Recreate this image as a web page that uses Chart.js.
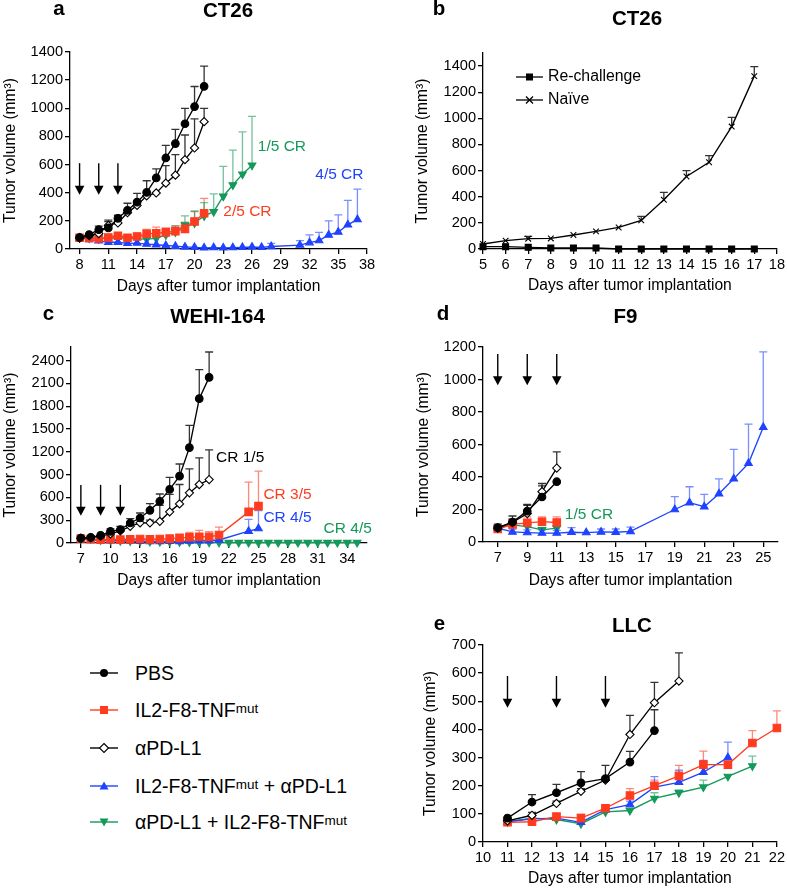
<!DOCTYPE html>
<html>
<head>
<meta charset="utf-8">
<script src="https://cdn.jsdelivr.net/npm/chart.js@4/dist/chart.umd.min.js"></script>
<style>
  body { margin: 0; background: #fff; width: 787px; height: 889px; position: relative; overflow: hidden;
         font-family: "Liberation Sans", Arial, Helvetica, sans-serif; }
  canvas { position: absolute; }
  .row { position: absolute; left: 90px; height: 26px; display: flex; align-items: center;
         white-space: nowrap; font-size: 19.5px; color: #000; }
  .row svg { margin-right: 17px; }
  .row sup { font-size: 13.5px; position: relative; top: -2px; }
</style>
</head>
<body>
<canvas id="panelA"></canvas>
<canvas id="panelB"></canvas>
<canvas id="panelC"></canvas>
<canvas id="panelD"></canvas>
<canvas id="panelE"></canvas>

<div class="row" style="top:660px"><svg width="28" height="14"><line x1="0" y1="7" x2="28" y2="7" stroke="#000" stroke-width="1.4"/><circle cx="14" cy="7" r="4" fill="#000"/></svg>PBS</div>
<div class="row" style="top:697px"><svg width="28" height="14"><line x1="0" y1="7" x2="28" y2="7" stroke="#ff3b1f" stroke-width="1.4"/><rect x="10" y="3" width="8" height="8" fill="#ff3b1f"/></svg>IL2-F8-TNF<sup>mut</sup></div>
<div class="row" style="top:735px"><svg width="28" height="14"><line x1="0" y1="7" x2="28" y2="7" stroke="#000" stroke-width="1.4"/><polygon points="14,2.5 18.5,7 14,11.5 9.5,7" fill="#fff" stroke="#000" stroke-width="1.1"/></svg>αPD-L1</div>
<div class="row" style="top:773px"><svg width="28" height="14"><line x1="0" y1="7" x2="28" y2="7" stroke="#1f43ff" stroke-width="1.4"/><polygon points="14,2.5 18.5,10.5 9.5,10.5" fill="#1f43ff"/></svg>IL2-F8-TNF<sup>mut</sup>&nbsp;+ αPD-L1</div>
<div class="row" style="top:809px"><svg width="28" height="14"><line x1="0" y1="7" x2="28" y2="7" stroke="#14995a" stroke-width="1.4"/><polygon points="9.5,3.5 18.5,3.5 14,11.5" fill="#14995a"/></svg>αPD-L1 + IL2-F8-TNF<sup>mut</sup></div>

<script>
Chart.defaults.font.family = '"Liberation Sans", Arial, Helvetica, sans-serif';
Chart.defaults.color = '#000';

// ---- panel a: CT26 ----
const aDays = [8, 9, 10, 11, 12, 13, 14, 15, 16, 17, 18, 19, 20, 21];
const aPBS = [82, 102, 137, 150, 218, 275, 333, 402, 505, 647, 749, 890, 1012, 1156];
const aPBSErr = [90, 108, 162, 205, 240, 325, 395, 485, 570, 737, 850, 1000, 1155, 1300];
const aPDL1 = [78, 95, 110, 168, 185, 258, 310, 378, 398, 468, 525, 635, 718, 905];
const aPDL1Err = [85, 100, 120, 195, 205, 275, 320, 390, 410, 592, 670, 810, 925, 1000];
const aIL2 = [80, 78, 75, 82, 94, 80, 89, 108, 112, 118, 127, 143, 195, 254];
const aIL2Err = [88, 85, 82, 92, 110, 92, 110, 140, 155, 150, 165, 190, 266, 360];
const aComboDays = [8, 9, 10, 11, 12, 13, 14, 15, 16, 17, 18, 19, 20, 21, 22, 23, 24, 25, 26, 27, 28, 31, 32, 33, 34, 35, 36, 37];
const aCombo = [78, 68, 58, 48, 48, 40, 42, 35, 30, 25, 20, 15, 12, 8, 10, 8, 10, 12, 14, 12, 18, 28, 45, 60, 100, 120, 172, 210];
const aComboErr = [85, 75, 68, 55, 55, 48, 50, 42, 38, 30, 25, 20, 18, 14, 15, 13, 15, 18, 20, 18, 40, 60, 100, 118, 200, 242, 345, 425];
const aCombo2Days = [8, 9, 10, 11, 12, 13, 14, 15, 16, 17, 18, 19, 20, 21, 22, 23, 24, 25, 26];
const aCombo2 = [80, 78, 72, 75, 80, 75, 72, 70, 75, 100, 120, 170, 185, 235, 265, 375, 455, 532, 595];
const aCombo2Err = [88, 85, 80, 85, 90, 85, 80, 80, 85, 130, 165, 235, 270, 330, 392, 587, 702, 832, 942];
const aXTicks = [8, 11, 14, 17, 20, 23, 26, 29, 32, 35, 38];
const aYTicks = [0, 200, 400, 600, 800, 1000, 1200, 1400];
const aArrowDays = [8, 10, 12];

// ---- panel b: CT26 re-challenge ----
const bDays = [5, 6, 7, 8, 9, 10, 11, 12, 13, 14, 15, 16, 17];
const bRechallenge = [18, 18, 13, 8, 8, 8, 0, 0, 0, 0, 0, 0, 0];
const bNaive = [38, 64, 79, 81, 107, 135, 165, 219, 377, 555, 664, 937, 1323];
const bNaiveErr = [45, 70, 97, 88, 112, 142, 172, 250, 433, 600, 715, 1008, 1395];
const bXTicks = [5, 6, 7, 8, 9, 10, 11, 12, 13, 14, 15, 16, 17, 18];
const bYTicks = [0, 200, 400, 600, 800, 1000, 1200, 1400];

// ---- panel c: WEHI-164 ----
const cDays = [7, 8, 9, 10, 11, 12, 13, 14, 15, 16, 17, 18, 19, 20];
const cPBS = [65, 75, 100, 152, 175, 263, 329, 430, 548, 705, 880, 1255, 1900, 2180];
const cPBSErr = [80, 90, 120, 185, 220, 320, 395, 517, 645, 864, 1040, 1549, 2281, 2514];
const cPDL1 = [60, 70, 90, 120, 160, 220, 265, 265, 285, 410, 515, 660, 770, 835];
const cPDL1Err = [70, 80, 100, 135, 180, 245, 290, 300, 495, 640, 770, 975, 1120, 1225];
const cTreatDays = [7, 8, 9, 10, 11, 12, 13, 14, 15, 16, 17, 18, 19, 20, 21, 24, 25];
const cIL2 = [60, 50, 45, 50, 45, 48, 52, 48, 52, 58, 68, 75, 82, 80, 105, 410, 485];
const cIL2Err = [70, 60, 55, 60, 55, 60, 65, 60, 65, 75, 100, 140, 165, 150, 210, 800, 945];
const cCombo = [55, 40, 35, 30, 28, 25, 22, 20, 20, 22, 20, 25, 30, 30, 40, 155, 190];
const cComboErr = [62, 48, 42, 38, 35, 32, 30, 28, 28, 30, 28, 35, 40, 42, 55, 310, 425];
const cCombo2Days = [7, 8, 9, 10, 11, 12, 13, 14, 15, 16, 17, 18, 19, 20, 21, 22, 23, 24, 25, 26, 27, 28, 29, 30, 31, 32, 33, 34, 35];
const cCombo2 = [60, 55, 40, 35, 30, 25, 22, 20, 18, 15, 14, 12, 10, 10, 8, 6, 6, 6, 6, 6, 6, 6, 6, 6, 6, 6, 6, 6, 6];
const cXTicks = [7, 10, 13, 16, 19, 22, 25, 28, 31, 34];
const cYTicks = [0, 300, 600, 900, 1200, 1500, 1800, 2100, 2400];
const cArrowDays = [7, 9, 11];

// ---- panel d: F9 ----
const dDays = [7, 8, 9, 10, 11];
const dPBS = [88, 123, 190, 277, 371];
const dPBSErr = [110, 160, 232, 345, 375];
const dPDL1 = [85, 120, 175, 310, 455];
const dPDL1Err = [100, 140, 225, 360, 555];
const dIL2 = [80, 108, 118, 125, 120];
const dIL2Err = [95, 140, 155, 155, 155];
const dCombo2 = [85, 105, 95, 75, 85];
const dCombo2Err = [95, 115, 105, 90, 100];
const dComboDays = [7, 8, 9, 10, 11, 12, 13, 14, 15, 16, 19, 20, 21, 22, 23, 24, 25];
const dCombo = [85, 62, 58, 55, 55, 60, 58, 62, 60, 65, 200, 242, 217, 297, 389, 484, 706];
const dComboErr = [95, 80, 75, 75, 72, 88, 70, 80, 80, 92, 279, 340, 293, 389, 570, 725, 1170];
const dXTicks = [7, 9, 11, 13, 15, 17, 19, 21, 23, 25];
const dYTicks = [0, 200, 400, 600, 800, 1000, 1200];
const dArrowDays = [7, 9, 11];

// ---- panel e: LLC ----
const ePBSDays = [11, 12, 13, 14, 15, 16, 17];
const ePBS = [85, 142, 175, 210, 225, 284, 396];
const ePBSErr = [92, 168, 205, 250, 272, 322, 470];
const ePDL1Days = [11, 12, 13, 14, 15, 16, 17, 18];
const ePDL1 = [75, 95, 137, 180, 220, 382, 495, 572];
const ePDL1Err = [80, 105, 145, 190, 230, 450, 567, 672];
const eIL2Days = [11, 12, 13, 14, 15, 16, 17, 18, 19, 20, 21, 22];
const eIL2 = [70, 72, 90, 85, 120, 165, 200, 235, 275, 275, 352, 405];
const eIL2Err = [75, 80, 100, 98, 132, 190, 220, 272, 323, 285, 396, 466];
const eComboDays = [11, 12, 13, 14, 15, 16, 17, 18, 19, 20];
const eCombo = [72, 82, 85, 70, 115, 133, 195, 212, 248, 300];
const eComboErr = [78, 88, 100, 78, 125, 145, 232, 255, 290, 355];
const eCombo2Days = [11, 12, 13, 14, 15, 16, 17, 18, 19, 20, 21];
const eCombo2 = [72, 85, 80, 65, 107, 112, 155, 175, 195, 233, 270];
const eCombo2Err = [76, 90, 85, 72, 112, 120, 175, 185, 220, 240, 305];
const eXTicks = [10, 11, 12, 13, 14, 15, 16, 17, 18, 19, 20, 21, 22];
const eYTicks = [0, 100, 200, 300, 400, 500, 600, 700];
const eArrowDays = [11, 13, 15];

const RED = '#ff3b1f', BLUE = '#1f43ff', GREEN = '#14995a';
const TITLE_SIZE = 15.6;
const HALF_TITLE = TITLE_SIZE * 1.2 / 2;

const groups = {
  pbs:   { color: '#000', err: 'rgba(0,0,0,0.8)', point: 'circle', r: 3.8, fill: '#000', rot: 0 },
  il2:   { color: RED, err: 'rgba(255,59,31,0.6)', point: 'rect', r: 5.3, fill: RED, rot: 0 },
  pdl1:  { color: '#000', err: 'rgba(0,0,0,0.8)', point: 'rectRot', r: 4.1, fill: '#fff', rot: 0 },
  combo: { color: BLUE, err: 'rgba(31,67,255,0.6)', point: 'triangle', r: 4.4, fill: BLUE, rot: 0 },
  combo2:{ color: GREEN, err: 'rgba(20,153,90,0.6)', point: 'triangle', r: 4.4, fill: GREEN, rot: 180 },
  re:    { color: '#000', err: 'rgba(0,0,0,0.8)', point: 'rect', r: 4.2, fill: '#000', rot: 0 },
  naive: { color: '#000', err: 'rgba(0,0,0,0.8)', point: 'crossRot', r: 4, fill: '#000', rot: 0 }
};

function series(g, days, vals, errs) {
  const s = groups[g];
  return {
    data: days.map((d, i) => ({ x: d, y: vals[i] })),
    errTop: errs || null,
    errColor: s.err,
    borderColor: s.color,
    backgroundColor: s.fill,
    borderWidth: 1.35,
    pointStyle: s.point,
    pointRadius: s.r,
    pointRotation: s.rot,
    pointBackgroundColor: s.fill,
    pointBorderColor: s.color,
    pointBorderWidth: 1.1,
    tension: 0,
    fill: false,
    clip: false
  };
}

// error bars, arrows, text notes, headings, inset legend
const decor = {
  id: 'decor',
  beforeDatasetsDraw(chart) {
    const ctx = chart.ctx, ys = chart.scales.y;
    chart.data.datasets.forEach((ds, i) => {
      if (!ds.errTop) return;
      const meta = chart.getDatasetMeta(i);
      ctx.save();
      ctx.strokeStyle = ds.errColor;
      ctx.lineWidth = 1.3;
      meta.data.forEach((p, j) => {
        const v = ds.errTop[j];
        if (v == null) return;
        const top = ys.getPixelForValue(v);
        if (!(top < p.y - 2)) return;
        ctx.beginPath();
        ctx.moveTo(p.x, p.y);
        ctx.lineTo(p.x, top);
        ctx.moveTo(p.x - 4, top);
        ctx.lineTo(p.x + 4, top);
        ctx.stroke();
      });
      ctx.restore();
    });
  },
  afterDatasetsDraw(chart, args, o) {
    const ctx = chart.ctx, xs = chart.scales.x, ys = chart.scales.y;
    const fam = '"Liberation Sans", Arial, Helvetica, sans-serif';
    ctx.save();
    if (o.arrows) {
      const y1 = ys.getPixelForValue(o.arrows.from), y2 = ys.getPixelForValue(o.arrows.to);
      o.arrows.days.forEach(d => {
        const x = xs.getPixelForValue(d);
        ctx.strokeStyle = '#000';
        ctx.lineWidth = 1.4;
        ctx.beginPath();
        ctx.moveTo(x, y1);
        ctx.lineTo(x, y2 - 7);
        ctx.stroke();
        ctx.fillStyle = '#000';
        ctx.beginPath();
        ctx.moveTo(x - 4.8, y2 - 9);
        ctx.lineTo(x + 4.8, y2 - 9);
        ctx.lineTo(x, y2);
        ctx.closePath();
        ctx.fill();
      });
    }
    ctx.font = '15.5px ' + fam;
    ctx.textBaseline = 'middle';
    ctx.textAlign = 'left';
    (o.notes || []).forEach(n => {
      ctx.fillStyle = n.color;
      ctx.fillText(n.text, xs.getPixelForValue(n.x), ys.getPixelForValue(n.y));
    });
    if (o.inset) {
      ctx.font = '15.8px ' + fam;
      o.inset.forEach(it => {
        const y = it.y - o.oy, x0 = it.x - o.ox;
        ctx.strokeStyle = '#000';
        ctx.lineWidth = 1.3;
        ctx.beginPath();
        ctx.moveTo(x0, y);
        ctx.lineTo(x0 + 27, y);
        ctx.stroke();
        const mx = x0 + 13.5;
        if (it.mark === 'square') {
          ctx.fillStyle = '#000';
          ctx.fillRect(mx - 3.5, y - 3.5, 7, 7);
        } else {
          ctx.beginPath();
          ctx.moveTo(mx - 3.5, y - 3.5); ctx.lineTo(mx + 3.5, y + 3.5);
          ctx.moveTo(mx + 3.5, y - 3.5); ctx.lineTo(mx - 3.5, y + 3.5);
          ctx.stroke();
        }
        ctx.fillStyle = '#000';
        ctx.fillText(it.text, x0 + 32, y);
      });
    }
    ctx.font = 'bold 20.5px ' + fam;
    ctx.textBaseline = 'alphabetic';
    ctx.textAlign = 'center';
    ctx.fillStyle = '#000';
    if (o.letter) ctx.fillText(o.letter.text, o.letter.x - o.ox, o.letter.y - o.oy);
    if (o.title) ctx.fillText(o.title.text, o.title.x - o.ox, o.title.y - o.oy);
    ctx.restore();
  }
};
Chart.register(decor);

function axis(min, max, ticks, text, fit) {
  return {
    type: 'linear',
    min: min,
    max: max,
    afterBuildTicks: ax => { ax.ticks = ticks.map(v => ({ value: v })); },
    afterFit: fit,
    grid: { drawOnChartArea: false, drawTicks: true, tickLength: 5, color: '#000', lineWidth: 1.3 },
    border: { display: true, color: '#000', width: 1.3 },
    ticks: { autoSkip: false, maxRotation: 0, padding: 2, color: '#000', font: { size: 14.6 }, callback: v => String(v) },
    title: { display: true, text: text, color: '#000', font: { size: TITLE_SIZE }, padding: 0 }
  };
}

function panel(id, spec, datasets, deco) {
  const L = Math.round(spec.yTitleX - HALF_TITLE), T = spec.top;
  const W = spec.right - L, H = spec.bottom - T;
  const cv = document.getElementById(id);
  cv.width = W; cv.height = H;
  cv.style.left = L + 'px'; cv.style.top = T + 'px';
  const [al, at, ar, ab] = spec.area;
  const xBoxBottom = Math.min(spec.xTitleY + HALF_TITLE, T + H);
  const yW = al - L, xH = xBoxBottom - ab;
  deco.ox = L; deco.oy = T;
  new Chart(cv, {
    type: 'line',
    data: { datasets: datasets },
    options: {
      responsive: false,
      animation: false,
      events: [],
      layout: { padding: { left: 0, top: at - T, right: L + W - ar, bottom: T + H - xBoxBottom } },
      scales: {
        x: axis(spec.xMin, spec.xMax, spec.xTicks, 'Days after tumor implantation', ax => { ax.height = xH; }),
        y: axis(0, spec.yMax, spec.yTicks, 'Tumor volume (mm³)', ax => { ax.width = yW; })
      },
      plugins: { legend: { display: false }, tooltip: { enabled: false }, decor: deco }
    }
  });
}

panel('panelA',
  { yTitleX: 10, top: 0, right: 392, bottom: 300, area: [70, 52, 367, 249], xTitleY: 287,
    xMin: 7, xMax: 38, xTicks: aXTicks, yMax: 1400, yTicks: aYTicks },
  [series('pbs', aDays, aPBS, aPBSErr), series('pdl1', aDays, aPDL1, aPDL1Err),
   series('il2', aDays, aIL2, aIL2Err), series('combo', aComboDays, aCombo, aComboErr),
   series('combo2', aCombo2Days, aCombo2, aCombo2Err)],
  { arrows: { days: aArrowDays, from: 610, to: 385 },
    notes: [{ text: '1/5 CR', x: 26.6, y: 727, color: GREEN },
            { text: '4/5 CR', x: 32.6, y: 531, color: BLUE },
            { text: '2/5 CR', x: 23.0, y: 265, color: RED }],
    letter: { text: 'a', x: 59, y: 15 }, title: { text: 'CT26', x: 228, y: 17 } });

panel('panelB',
  { yTitleX: 422, top: 0, right: 787, bottom: 300, area: [483, 53, 778, 249], xTitleY: 286,
    xMin: 5, xMax: 18, xTicks: bXTicks, yMax: 1500, yTicks: bYTicks },
  [series('re', bDays, bRechallenge, null), series('naive', bDays, bNaive, bNaiveErr)],
  { inset: [{ text: 'Re-challenge', x: 516, y: 77, mark: 'square' },
            { text: 'Naïve', x: 516, y: 100, mark: 'cross' }],
    letter: { text: 'b', x: 439, y: 15 }, title: { text: 'CT26', x: 637, y: 25 } });

panel('panelC',
  { yTitleX: 10, top: 298, right: 392, bottom: 592, area: [71, 347, 367, 543], xTitleY: 581,
    xMin: 6, xMax: 36, xTicks: cXTicks, yMax: 2580, yTicks: cYTicks },
  [series('pbs', cDays, cPBS, cPBSErr), series('pdl1', cDays, cPDL1, cPDL1Err),
   series('il2', cTreatDays, cIL2, cIL2Err), series('combo', cTreatDays, cCombo, cComboErr),
   series('combo2', cCombo2Days, cCombo2, null)],
  { arrows: { days: cArrowDays, from: 765, to: 360 },
    notes: [{ text: 'CR 1/5', x: 20.7, y: 1119, color: '#000' },
            { text: 'CR 3/5', x: 25.5, y: 632, color: RED },
            { text: 'CR 4/5', x: 25.5, y: 329, color: BLUE },
            { text: 'CR 4/5', x: 31.6, y: 193, color: GREEN }],
    letter: { text: 'c', x: 48.5, y: 320 }, title: { text: 'WEHI-164', x: 217.5, y: 323 } });

panel('panelD',
  { yTitleX: 423, top: 298, right: 787, bottom: 592, area: [483, 347, 778, 542], xTitleY: 581,
    xMin: 6, xMax: 26, xTicks: dXTicks, yMax: 1200, yTicks: dYTicks },
  [series('pbs', dDays, dPBS, dPBSErr), series('pdl1', dDays, dPDL1, dPDL1Err),
   series('il2', dDays, dIL2, dIL2Err), series('combo', dComboDays, dCombo, dComboErr),
   series('combo2', dDays, dCombo2, dCombo2Err)],
  { arrows: { days: dArrowDays, from: 1157, to: 964 },
    notes: [{ text: '1/5 CR', x: 11.55, y: 169, color: GREEN }],
    letter: { text: 'd', x: 443, y: 320 }, title: { text: 'F9', x: 625.5, y: 323 } });

panel('panelE',
  { yTitleX: 430, top: 596, right: 787, bottom: 889, area: [483, 645, 778, 842], xTitleY: 879,
    xMin: 10, xMax: 22, xTicks: eXTicks, yMax: 700, yTicks: eYTicks },
  [series('pbs', ePBSDays, ePBS, ePBSErr), series('pdl1', ePDL1Days, ePDL1, ePDL1Err),
   series('il2', eIL2Days, eIL2, eIL2Err), series('combo', eComboDays, eCombo, eComboErr),
   series('combo2', eCombo2Days, eCombo2, eCombo2Err)],
  { arrows: { days: eArrowDays, from: 590, to: 477 },
    letter: { text: 'e', x: 439.5, y: 630 }, title: { text: 'LLC', x: 632, y: 632 } });
</script>
</body>
</html>
